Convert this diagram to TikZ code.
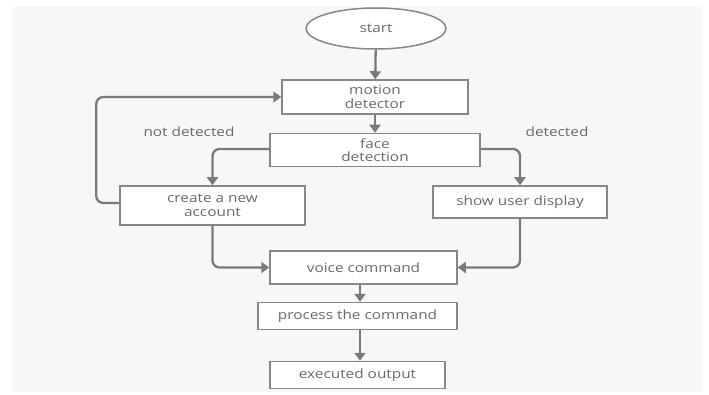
\documentclass[tikz,border=0pt]{standalone}
\usepackage{fontspec}
\setmainfont[FakeStretch=1.2]{Open Sans}
\usetikzlibrary{arrows.meta,shapes.geometric}
\definecolor{bgc}{HTML}{F6F7F9}
\definecolor{linec}{HTML}{7A7A7A}
\definecolor{boxc}{HTML}{878787}
\definecolor{txtc}{HTML}{6A6A6A}
\tikzset{
  box/.style={draw=boxc, line width=1.5pt, fill=white, text=txtc, align=center, inner sep=0pt,
    font=\fontsize{12.8}{13.5}\selectfont},
  conn/.style={draw=linec, line width=2.3pt, rounded corners=7pt,
    -{Triangle[width=11pt,length=8pt]}},
  lbl/.style={text=txtc, font=\fontsize{12.8}{13.5}\selectfont, inner sep=0pt}
}
\begin{document}
\begin{tikzpicture}[x=1pt,y=-1pt]
\useasboundingbox (0,0) rectangle (709,395);
\fill[white] (0,0) rectangle (709,395);
\fill[bgc] (12,7) rectangle (703,392);
\node[box, ellipse, minimum width=140pt, minimum height=41pt] (start) at (376,28.5) {start};
\node[box, minimum width=186pt, minimum height=34pt] (motion) at (375,97) {motion\\detector};
\node[box, minimum width=210pt, minimum height=33pt] (face) at (375,150) {face\\detection};
\node[box, minimum width=185pt, minimum height=39pt] (create) at (212.5,205.5) {create a new\\account};
\node[box, minimum width=174pt, minimum height=32pt] (show) at (520,202) {show user display};
\node[box, minimum width=187pt, minimum height=33pt] (voice) at (363.5,267.5) {voice command};
\node[box, minimum width=199pt, minimum height=27pt] (proc) at (357.5,316) {process the command};
\node[box, minimum width=175pt, minimum height=27pt] (exec) at (357.5,375) {executed output};
\node[lbl] (nd) at (189,132) {not detected};
\node[lbl] (d) at (557,132) {detected};
\draw[conn] (start) -- (motion);
\draw[conn] (motion) -- (face);
\draw[conn] ([yshift=2.5pt]create.west) -- ++(-23,0) |- (motion.west);
\draw[conn] ([yshift=1pt]face.west) -| (create.north);
\draw[conn] ([yshift=1pt]face.east) -| (show.north);
\draw[conn] (create.south) |- (voice.west);
\draw[conn] (show.south) |- (voice.east);
\draw[conn] (voice.south -| 360,0) -- (proc.north -| 360,0);
\draw[conn] (proc.south -| 360,0) -- (exec.north -| 360,0);
\end{tikzpicture}
\end{document}
